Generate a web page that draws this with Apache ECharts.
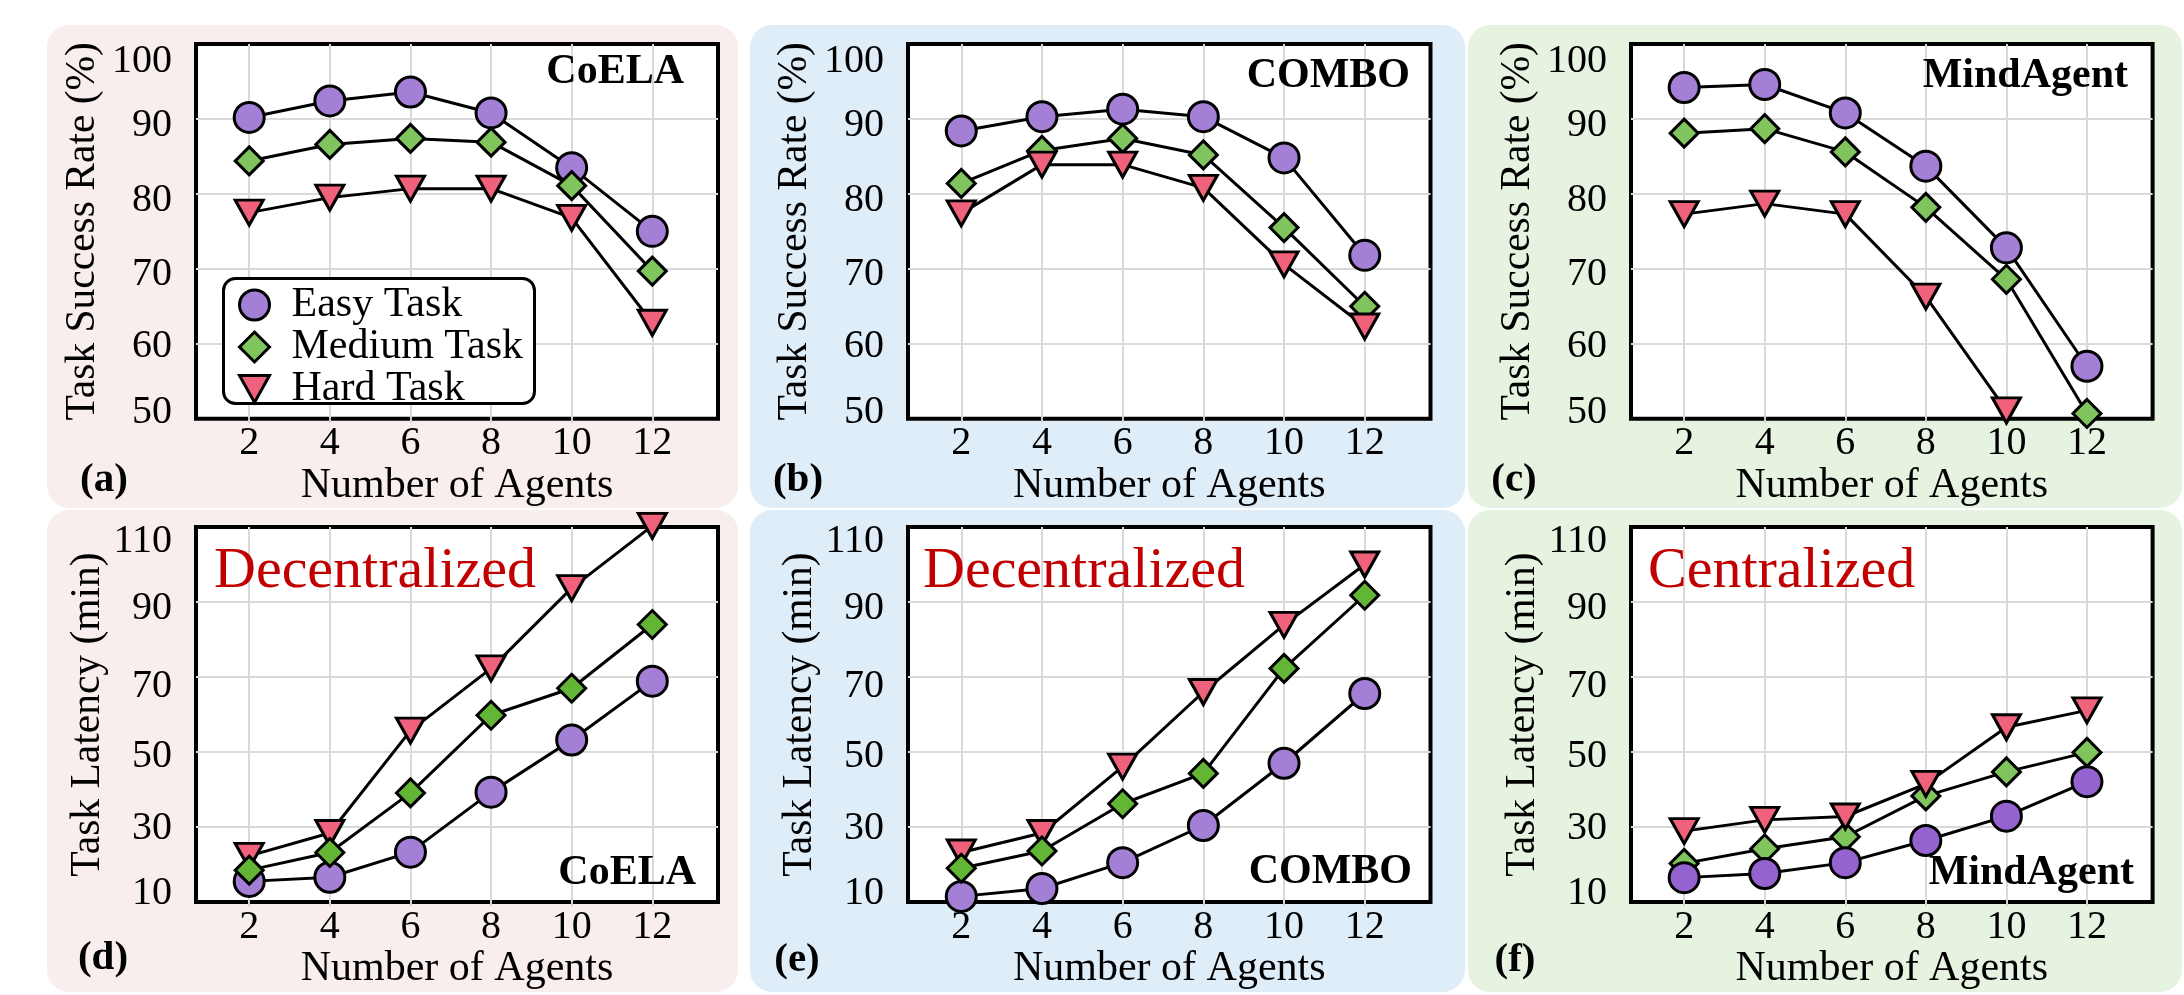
<!DOCTYPE html>
<html><head><meta charset="utf-8">
<script src="https://cdn.jsdelivr.net/npm/echarts@6/dist/echarts.min.js"></script>
<style>html,body{margin:0;padding:0;background:#fff}#c{width:2184px;height:995px}</style>
</head><body><div id="c"></div>
<script>
// ---------- data ----------
const agents = [2, 4, 6, 8, 10, 12];
const successTicks = [50, 60, 70, 80, 90, 100];
const latencyTicks = [10, 30, 50, 70, 90, 110];
const seriesNames = ['Easy Task', 'Medium Task', 'Hard Task'];
const methods = ['CoELA', 'COMBO', 'MindAgent'];
const panelLetters = ['(a)', '(b)', '(c)', '(d)', '(e)', '(f)'];
const modeLabels = ['Decentralized', 'Decentralized', 'Centralized'];
const xName = 'Number of Agents';
const successName = 'Task Success Rate (%)';
const latencyName = 'Task Latency (min)';

// success rate (%)
const coelaSuccessEasy   = [90.2, 92.4, 93.6, 90.8, 83.5, 75.0];
const coelaSuccessMedium = [84.4, 86.6, 87.4, 86.9, 81.1, 69.7];
const coelaSuccessHard   = [77.5, 79.5, 80.7, 80.7, 76.8, 62.8];
const comboSuccessEasy   = [88.4, 90.3, 91.3, 90.3, 84.8, 71.8];
const comboSuccessMedium = [81.4, 85.8, 87.4, 85.2, 75.5, 65.0];
const comboSuccessHard   = [77.4, 83.9, 83.9, 80.8, 70.6, 62.3];
const mindSuccessEasy    = [94.2, 94.6, 90.8, 83.7, 72.8, 57.0];
const mindSuccessMedium  = [88.1, 88.7, 85.6, 78.2, 68.6, 50.7];
const mindSuccessHard    = [77.3, 78.7, 77.3, 66.3, 51.1, null];
// latency (min)
const coelaLatencyEasy   = [15.5, 16.6, 23.3, 39.3, 53.2, 68.9];
const coelaLatencyMedium = [18.5, 23.2, 39.1, 59.8, 67.0, 84.0];
const coelaLatencyHard   = [22.3, 28.4, 55.7, 72.3, 93.7, 110.3];
const comboLatencyEasy   = [11.5, 13.6, 20.5, 30.4, 47.0, 65.6];
const comboLatencyMedium = [19.0, 23.6, 36.2, 44.3, 72.3, 91.8];
const comboLatencyHard   = [23.2, 28.4, 46.1, 66.0, 83.9, 100.0];
const mindLatencyEasy    = [16.5, 17.6, 20.5, 26.4, 32.9, 42.1];
const mindLatencyMedium  = [20.3, 24.2, 27.4, 38.3, 44.7, 49.9];
const mindLatencyHard    = [28.9, 31.9, 32.8, 41.5, 56.6, 61.1];

// ---------- layout / style ----------
const FONT = '"Liberation Serif","Times New Roman",serif';
const colLeft = [196, 908, 1631];
const colWidth = [522, 522.5, 521.6];
const rowTop = [44, 527];
const rowHeight = [374.7, 375];
const bgCols = [[47, 738], [750, 1465], [1468, 2182]];
const bgRows = [[25, 508], [510, 992]];
const bgColors = ['#f9eeee', '#dfedf9', '#e6f3e0'];
const xRange = [0.68, 13.63];
// vertical nudge (px) of y tick labels, per row, matching the reference typesetting
const yLabelShift = [[-6, 3, 6, 7, 7, 17], [-9, 1, 4, 9, 6, 14]];
const legendBox = {x: 223.5, y: 278.5, width: 311, height: 125};

const panels = [
  {row: 0, col: 0, vals: [coelaSuccessEasy, coelaSuccessMedium, coelaSuccessHard], z: [2, 3, 4],
   colors: ['#a47fd6', '#80c45e', '#f0627b']},
  {row: 0, col: 1, vals: [comboSuccessEasy, comboSuccessMedium, comboSuccessHard], z: [2, 3, 4],
   colors: ['#a47fd6', '#80c45e', '#f0627b']},
  {row: 0, col: 2, vals: [mindSuccessEasy, mindSuccessMedium, mindSuccessHard], z: [2, 3, 4],
   colors: ['#a47fd6', '#80c45e', '#f0627b']},
  {row: 1, col: 0, vals: [coelaLatencyEasy, coelaLatencyMedium, coelaLatencyHard], z: [2, 4, 3],
   colors: ['#a47fd6', '#63b535', '#f0627b']},
  {row: 1, col: 1, vals: [comboLatencyEasy, comboLatencyMedium, comboLatencyHard], z: [2, 4, 3],
   colors: ['#a47fd6', '#63b535', '#f0627b']},
  {row: 1, col: 2, vals: [mindLatencyEasy, mindLatencyMedium, mindLatencyHard], z: [4, 2, 3],
   colors: ['#9563cf', '#80c45e', '#f0627b']}
];

const symbols = ['circle', 'diamond', 'triangle'];
const symbolSizes = [30, [28, 28], [28, 25]];
const symbolRotates = [0, 0, 180];

function richFor(row) {
  const rich = {};
  yLabelShift[row].forEach((s, k) => {
    const p = Math.round(Math.abs(s) * 2);
    rich['s' + k] = {fontFamily: FONT, fontSize: 40, color: '#000',
      padding: s >= 0 ? [p, 0, 0, 0] : [0, 0, p, 0]};
  });
  return rich;
}

const grid = [], xAxis = [], yAxis = [], series = [], graphic = [];

// panel backgrounds
for (let r = 0; r < 2; r++) {
  for (let c = 0; c < 3; c++) {
    graphic.push({
      type: 'rect', z: -100, silent: true,
      shape: {x: bgCols[c][0], y: bgRows[r][0], width: bgCols[c][1] - bgCols[c][0],
              height: bgRows[r][1] - bgRows[r][0], r: 22},
      style: {fill: bgColors[c]}
    });
  }
}
// legend frame
graphic.push({type: 'rect', z: 10, silent: true,
  shape: {x: legendBox.x, y: legendBox.y, width: legendBox.width, height: legendBox.height, r: 12},
  style: {fill: '#fff', stroke: '#000', lineWidth: 3}});

panels.forEach((p, i) => {
  const top = p.row === 0;
  grid.push({
    left: colLeft[p.col], top: rowTop[p.row], width: colWidth[p.col], height: rowHeight[p.row],
    show: true, backgroundColor: '#fff', borderColor: '#000', borderWidth: 4,
    containLabel: false, outerBoundsMode: 'none'
  });
  xAxis.push({
    type: 'value', gridIndex: i, min: xRange[0], max: xRange[1],
    name: xName, nameLocation: 'middle', nameGap: top ? 44 : 42,
    nameTextStyle: {fontFamily: FONT, fontSize: 42, color: '#000'},
    axisLine: {show: false},
    axisTick: {show: true, length: 4, customValues: agents, lineStyle: {color: '#d4d4d4', width: 2}},
    axisLabel: {customValues: agents, margin: 5, fontFamily: FONT, fontSize: 40, color: '#000'},
    splitLine: {show: true, lineStyle: {color: '#d9d9d9', width: 2}}
  });
  const ticks = top ? successTicks : latencyTicks;
  yAxis.push({
    type: 'value', gridIndex: i, min: ticks[0], max: ticks[ticks.length - 1],
    name: top ? successName : latencyName, nameLocation: 'middle', nameGap: top ? 92 : 68,
    nameTextStyle: {fontFamily: FONT, fontSize: 41.5, color: '#000'},
    axisLine: {show: false},
    axisTick: {show: false, customValues: ticks},
    axisLabel: {customValues: ticks, margin: 24, fontFamily: FONT, fontSize: 40, color: '#000',
      formatter: (v) => {
        const k = ticks.indexOf(v);
        return k >= 0 ? '{s' + k + '|' + v + '}' : String(v);
      },
      rich: richFor(p.row)},
    splitLine: {show: true, showMinLine: false, showMaxLine: false, lineStyle: {color: '#d9d9d9', width: 2}}
  });
  p.vals.forEach((vals, k) => {
    series.push({
      type: 'line', name: seriesNames[k], xAxisIndex: i, yAxisIndex: i,
      data: agents.map((a, j) => [a, vals[j] == null ? '-' : vals[j]]),
      symbol: symbols[k], symbolSize: symbolSizes[k], symbolRotate: symbolRotates[k],
      showAllSymbol: true, clip: false, z: p.z[k], connectNulls: false,
      lineStyle: {color: '#000', width: 3},
      itemStyle: {color: p.colors[k], borderColor: '#000', borderWidth: 3, borderJoin: 'miter'},
      emphasis: {disabled: true}
    });
  });
});

// panel letters
const letterPos = [[104, 480], [798, 480], [1514, 480], [103, 958], [797, 960], [1515, 960]];
panelLetters.forEach((t, i) => {
  graphic.push({type: 'text', z: 100, x: letterPos[i][0], y: letterPos[i][1],
    style: {text: t, font: 'bold 41px ' + FONT, fill: '#000', align: 'center', verticalAlign: 'middle',
            textAlign: 'center', textVerticalAlign: 'middle'}});
});
// method labels
const methodPos = [[684, 72.5], [1410, 76], [2128, 76.5], [696, 873.5], [1412, 872.5], [2134, 873.5]];
for (let i = 0; i < 6; i++) {
  graphic.push({type: 'text', z: 100, x: methodPos[i][0], y: methodPos[i][1],
    style: {text: methods[i % 3], font: 'bold 42px ' + FONT, fill: '#000', align: 'right', verticalAlign: 'middle',
            textAlign: 'right', textVerticalAlign: 'middle'}});
}
// mode labels
const modePos = [[214, 572], [923, 572], [1648, 572]];
modeLabels.forEach((t, i) => {
  graphic.push({type: 'text', z: 100, x: modePos[i][0], y: modePos[i][1],
    style: {text: t, font: '58px ' + FONT, fill: '#c00000', align: 'left', verticalAlign: 'middle',
            textAlign: 'left', textVerticalAlign: 'middle'}});
});

const option = {
  animation: false,
  backgroundColor: '#fff',
  textStyle: {fontFamily: FONT},
  grid, xAxis, yAxis, series, graphic,
  legend: {
    show: true, orient: 'vertical', left: 238, top: 284,
    itemWidth: 30, itemHeight: 30, itemGap: 0,
    padding: 0,
    backgroundColor: 'transparent', borderWidth: 0,
    selectedMode: false, z: 50,
    textStyle: {fontFamily: FONT, fontSize: 42, color: '#000', padding: [0, 0, 0, 17]},
    itemStyle: {borderColor: '#000', borderWidth: 3},
    data: [
      {name: seriesNames[0], icon: 'circle'},
      {name: seriesNames[1], icon: 'path://M10,0L20,10L10,20L0,10Z'},
      {name: seriesNames[2], icon: 'path://M0,0L20,0L10,18Z'}
    ]
  }
};

const chart = echarts.init(document.getElementById('c'), null, {renderer: 'canvas'});
chart.setOption(option);
</script>
</body></html>
